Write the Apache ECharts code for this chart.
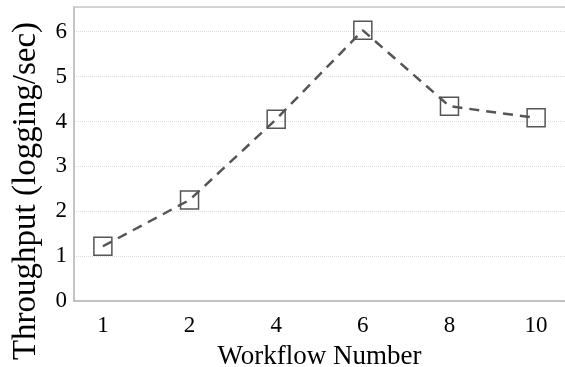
<!DOCTYPE html>
<html>
<head>
<meta charset="utf-8">
<script src="https://cdn.jsdelivr.net/npm/echarts@6/dist/echarts.min.js"></script>
<style>html,body{margin:0;padding:0;background:#fff;}#c{width:565px;height:367px;}</style>
</head>
<body>
<div id="c"></div>
<script>
const categories = ['1', '2', '4', '6', '8', '10'];
const throughput = [1.22, 2.25, 4.05, 6.03, 4.34, 4.08];
const yTicks = [0, 1, 2, 3, 4, 5, 6];

const chart = echarts.init(document.getElementById('c'), null, {renderer: 'canvas'});
const font = '"Liberation Serif", "Times New Roman", serif';
const idx = categories.map((c, i) => i);
chart.setOption({
  animation: false,
  backgroundColor: '#fff',
  grid: {left: 74, right: 0, top: 7, bottom: 66, containLabel: false, outerBoundsMode: 'none'},
  xAxis: [{
    type: 'value', min: -1/3, max: categories.length - 1 + 1/3,
    axisLine: {show: true, onZero: false, lineStyle: {color: '#b0b0b0', width: 1.5}},
    axisTick: {show: false},
    splitLine: {show: false},
    axisLabel: {customValues: idx, formatter: v => categories[Math.round(v)], color: '#000', fontFamily: font, fontSize: 23, margin: 13},
    name: 'Workflow Number', nameLocation: 'middle', nameGap: 42,
    nameTextStyle: {color: '#000', fontFamily: font, fontSize: 27}
  }, {
    type: 'value', position: 'top', min: -1/3, max: categories.length - 1 + 1/3,
    axisLine: {show: true, onZero: false, lineStyle: {color: '#c8c8c8', width: 1.5}},
    axisTick: {show: false}, axisLabel: {show: false}, splitLine: {show: false}
  }],
  yAxis: {
    type: 'value', min: 0, max: 6.55, interval: 1,
    axisLine: {show: true, onZero: false, lineStyle: {color: '#b0b0b0', width: 1.5}},
    axisTick: {show: false},
    splitLine: {show: true, lineStyle: {color: '#dcdcdc', type: 'dotted', width: 1}},
    axisLabel: {customValues: yTicks, color: '#000', fontFamily: font, fontSize: 23, margin: 7},
    name: 'Throughput (logging/sec)', nameLocation: 'middle', nameGap: 31, nameRotate: 90,
    nameTextStyle: {color: '#000', fontFamily: font, fontSize: 33, padding: [0, 74, 0, 0]}
  },
  series: [{
    type: 'line',
    data: throughput.map((v, i) => [i, v]),
    symbol: 'rect', symbolSize: 18,
    lineStyle: {color: '#555', width: 2.5, type: [10, 7]},
    itemStyle: {color: 'rgba(0,0,0,0)', borderColor: '#555', borderWidth: 1.5},
    emphasis: {disabled: true}
  }]
});
</script>
</body>
</html>
